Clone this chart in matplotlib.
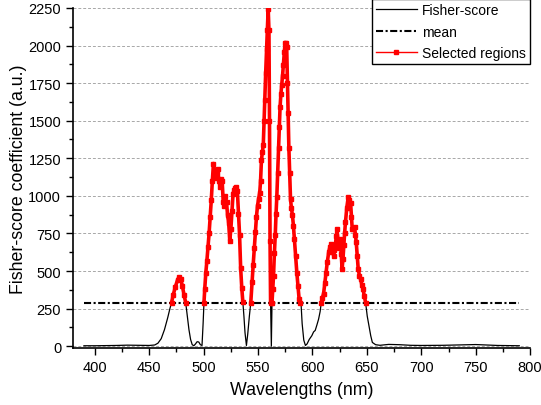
import numpy as np
from matplotlib import pyplot as plt
from matplotlib.ticker import MultipleLocator

plt.rcParams['font.family'] = ['Liberation Sans', 'DejaVu Sans']

# values (nm, a.u.)
wavelengths = [
    390, 400, 410, 420, 430, 440, 450, 455, 458, 461, 464, 467, 469, 470.5, 472,
    474, 476, 477.5, 479, 480.5, 482, 483.5, 485, 486.5, 488, 489.5, 491, 492.5,
    494, 495.5, 497, 498.5, 499.5, 500.3, 501, 502, 503, 504, 505, 506, 507, 508,
    509, 510, 511, 512, 513, 514, 515, 516, 517, 518, 519, 520, 521, 522, 523,
    524, 525, 526, 527, 528, 529, 530, 531, 532, 533, 534, 535, 536, 537, 538,
    539.3, 540.5, 542, 543.3, 544.5, 545.5, 546.5, 547.6, 548.5, 549.5, 550.5,
    551.5, 552.3, 553.1, 554, 554.8, 555.5, 556.2, 557, 557.8, 558.5, 559.3, 560,
    560.5, 561, 561.5, 562.2, 562.8, 563.5, 564.2, 565, 565.8, 566.5, 567.2, 568,
    568.8, 569.5, 570.2, 571, 571.8, 572.5, 573.2, 574, 574.8, 575.5, 576.3, 577,
    577.6, 578.3, 579, 579.8, 580.6, 581.6, 582.5, 583.4, 584.5, 585.6, 586.7,
    587.7, 588.6, 589.5, 590.5, 592, 593.5, 595, 597, 599.4, 601, 602.5, 604,
    605.6, 607, 608, 609, 610.2, 611.3, 612.4, 613.6, 614.9, 616, 617.3, 618.4,
    619.5, 620.2, 621, 621.8, 622.6, 623.3, 624.1, 624.9, 625.6, 626.4, 627.2,
    628, 628.8, 629.5, 630.3, 631.5, 632.8, 634, 635, 635.8, 636.5, 637.6, 638.7,
    639.5, 640.2, 641.1, 642, 643.1, 644.2, 645.3, 646.4, 647.6, 648.8, 650.3,
    651.9, 653.5, 655, 658, 662, 670, 680, 690, 700, 720, 740, 750, 760, 770,
    780, 790,
]
fisher_score = [
    3, 3, 4, 5, 7, 6, 5, 8, 20, 50, 110, 190, 250, 290, 340,
    395, 440, 462, 445, 400, 340, 290, 200, 110, 45, 10, 3, 15,
    30, 28, 10, 5, 150, 290, 380, 490, 570, 660, 750, 860, 970, 1100,
    1215, 1170, 1120, 1160, 1180, 1100, 1060, 1110, 1100, 960, 930, 1000, 960, 870, 820,
    700, 780, 900, 1010, 1040, 1050, 1060, 1030, 880, 740, 520, 390, 295, 200, 90,
    5, 80, 200, 290, 430, 540, 650, 760, 860, 935, 980,
    1020, 1100, 1240, 1290, 1340, 1500, 1640, 1820, 1980, 2100, 2245, 2100,
    1500, 700, 290, 0, 290, 380, 470, 620, 740, 880, 990, 1150,
    1320, 1460, 1590, 1680, 1740, 1800, 1870, 1960, 2020, 2015, 1990, 1750,
    1550, 1320, 1150, 980, 920, 870, 800, 710, 600, 490, 400,
    315, 285, 280, 150, 40, 5, 15, 45, 70, 95, 105, 140,
    180, 230, 285, 320, 350, 420, 490, 560, 625, 660, 680, 640,
    600, 640, 670, 730, 780, 700, 650, 690, 710, 610, 515,
    580, 670, 750, 825, 920, 990, 970, 955, 860, 780, 780, 790,
    740, 690, 600, 515, 470, 445, 410, 380, 335, 290, 200,
    135, 70, 25, 10, 6, 12, 10, 6, 5, 6, 9, 11, 8, 5,
    4, 3,
]
mean_value = 285

wl = np.array(wavelengths, dtype=float)
fs = np.array(fisher_score, dtype=float)
selected = np.where(fs >= mean_value, fs, np.nan)

fig = plt.figure(figsize=(5.41, 4.06), dpi=100)
ax = fig.add_axes([0.135, 0.14, 0.845, 0.838])

ax.plot(wl, fs, color='black', lw=0.9, label='Fisher-score', zorder=3)
ax.plot([wl[0], wl[-1]], [mean_value, mean_value], color='black', lw=1.5,
        dashes=(3.4, 1.2, 1.0, 1.2), label='mean', zorder=4)
ax.plot(wl, selected, color='red', lw=2.6, marker='s', ms=2.8,
        mec='red', label='Selected regions', zorder=5)

ax.set_xlim(380, 800)
ax.set_ylim(-13, 2250)
ax.xaxis.set_major_locator(MultipleLocator(50))
ax.xaxis.set_minor_locator(MultipleLocator(25))
ax.yaxis.set_major_locator(MultipleLocator(250))
ax.yaxis.set_minor_locator(MultipleLocator(125))
ax.tick_params(which='major', direction='out', length=5, width=1, labelsize=10.5)
ax.tick_params(which='minor', direction='out', length=3, width=1)

for sp in ['top', 'right']:
    ax.spines[sp].set_visible(False)
for sp in ['left', 'bottom']:
    ax.spines[sp].set_linewidth(1.2)

ax.grid(axis='y', which='major', color='#a8a8a8', lw=0.7, dashes=(3, 2))
ax.set_axisbelow(True)

ax.set_xlabel('Wavelengths (nm)', fontsize=12.8, labelpad=5)
ax.set_ylabel('Fisher-score coefficient (a.u.)', fontsize=12.8, labelpad=1)

leg = ax.legend(loc='upper right', bbox_to_anchor=(1.0, 1.027), borderaxespad=0,
                fontsize=10, fancybox=False, framealpha=1, edgecolor='black',
                handlelength=2.9, numpoints=1, borderpad=0.3, labelspacing=0.55,
                handletextpad=0.4)
leg.get_frame().set_linewidth(1.0)
leg.legend_handles[2].set_linewidth(1.0)
leg.legend_handles[2].set_markersize(2.5)

fig.savefig('out.png', dpi=100)
